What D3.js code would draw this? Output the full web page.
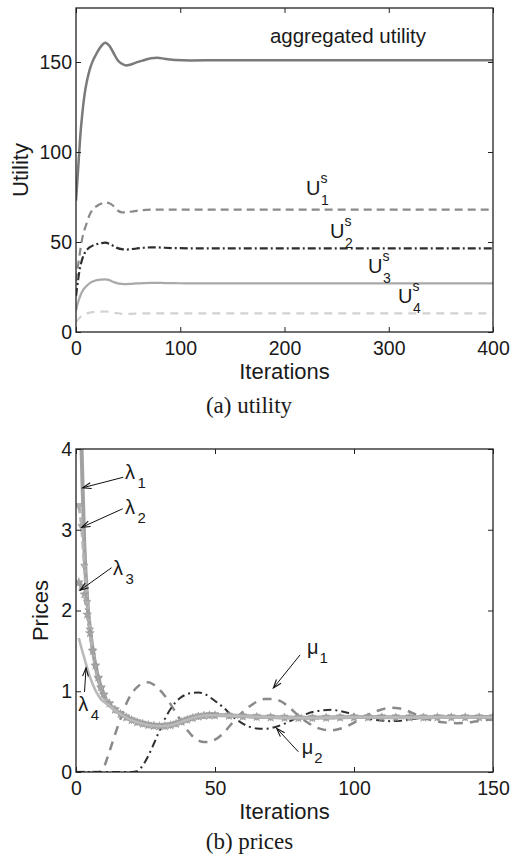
<!DOCTYPE html>
<html><head><meta charset="utf-8">
<script src="https://cdn.jsdelivr.net/npm/d3@7"></script>
<style>body{margin:0;background:#fff}svg{display:block}</style>
</head><body>
<script>
// ---------- (a) utility ----------
const iterU = [0,2,4,6,8,10,13,16,20,24,28,32,36,40,44,48,52,58,65,72,78,85,95,110,140,200,300,400];
const aggUtility = [73,90,108,121,131,138,145.5,150.5,155,158.7,160.7,159,155,151,149,148.1,148.5,149.8,151,152.1,152.3,151.8,151.1,150.9,151,151,151,151];
const U1 = [28,37,45,52,56.5,60,65,68,70,71.3,72,71.5,70,67.5,66.5,66.4,66.8,67.3,67.7,68,68,68,68,68,68,68,68,68];
const U2 = [20,29,36,40.5,43.5,45.3,47,48,48.8,49.3,49.6,49,47.8,46.6,46,45.8,46,46.4,46.8,47,47,46.8,46.6,46.5,46.5,46.5,46.5,46.5];
const U3 = [12,16.5,20,22.5,24.3,25.5,27,28,28.8,29.1,29.2,28.8,27.8,27,26.7,26.6,26.7,27,27.2,27.3,27.3,27.2,27.1,27,27,27,27,27];
const U4 = [5.5,7,8.2,9.1,9.8,10.3,10.7,11,11.2,11.3,11.4,11.2,10.8,10.4,10.1,10,10.1,10.2,10.3,10.4,10.4,10.4,10.4,10.4,10.4,10.4,10.4,10.4];
const xTicksA = [0,100,200,300,400];
const yTicksA = [0,50,100,150];

// ---------- (b) prices ----------
const iterL = [1,2,3,4,5,6,7,8,9,10,12,14,16,18,20,22,24,26,28,30,32,34,36,38,40,42,44,46,48,50,55,60,65,70,75,80,85,90,95,100,105,110,115,120,125,130,135,140,145,150];
const lambda1 = [5.2,4.0,2.8,2.15,1.78,1.52,1.32,1.16,1.04,0.95, 0.84,0.77,0.72,0.68,0.645,0.62,0.6,0.585,0.575,0.57, 0.572,0.582,0.6,0.625,0.65,0.672,0.69,0.7,0.705,0.705, 0.7,0.692,0.685,0.68,0.675,0.672,0.672,0.675,0.678,0.68, 0.68,0.68,0.678,0.677,0.678,0.68,0.68,0.68,0.68,0.68];
const lambda2 = [3.3,3.04,2.55,2.1,1.76,1.5,1.31,1.15,1.03,0.95, 0.845,0.775,0.725,0.685,0.65,0.625,0.605,0.59,0.58,0.575, 0.578,0.588,0.606,0.63,0.655,0.677,0.695,0.705,0.71,0.71, 0.705,0.697,0.69,0.685,0.68,0.677,0.677,0.68,0.683,0.685, 0.685,0.685,0.683,0.682,0.683,0.685,0.685,0.685,0.685,0.685];
const lambda3 = [2.35,2.3,2.2,1.95,1.72,1.5,1.32,1.17,1.05,0.96, 0.85,0.772,0.718,0.676,0.642,0.616,0.596,0.581,0.571,0.566, 0.568,0.578,0.596,0.621,0.646,0.668,0.686,0.696,0.701,0.701, 0.696,0.688,0.681,0.676,0.671,0.668,0.668,0.671,0.674,0.676, 0.676,0.676,0.674,0.673,0.674,0.676,0.676,0.676,0.676,0.676];
const lambda4 = [1.66,1.53,1.41,1.29,1.18,1.09,1.01,0.95,0.9,0.87, 0.82,0.765,0.715,0.675,0.64,0.617,0.598,0.583,0.573,0.568, 0.57,0.58,0.598,0.623,0.648,0.67,0.688,0.698,0.703,0.703, 0.698,0.69,0.683,0.678,0.673,0.67,0.67,0.673,0.676,0.678, 0.678,0.678,0.676,0.675,0.676,0.678,0.678,0.678,0.678,0.678];
const iterMu = [0,4,8,10,12,14,16,18,20,22,24,26,28,30,32,34,36,38,40,42,44,46,48,50,53,56,59,62,65,68,71,74,77,80,83,86,89,92,95,98,101,104,107,110,113,116,119,122,125,128,131,134,137,140,143,146,150];
const mu1 = [0,0,0,0.06,0.25,0.46,0.66,0.84,0.97,1.05,1.1,1.11,1.08,1.02,0.94,0.84,0.73,0.62,0.52,0.44,0.39,0.37,0.375,0.4,0.48,0.6,0.71,0.8,0.87,0.905,0.905,0.87,0.79,0.7,0.62,0.56,0.525,0.515,0.535,0.575,0.63,0.69,0.74,0.775,0.795,0.79,0.76,0.715,0.672,0.64,0.62,0.61,0.605,0.608,0.622,0.638,0.65];
const mu2 = [0,0,0,0,0,0,0,0,0,0.01,0.08,0.2,0.35,0.51,0.66,0.78,0.87,0.93,0.965,0.98,0.985,0.97,0.93,0.88,0.8,0.7,0.62,0.565,0.54,0.535,0.55,0.585,0.63,0.68,0.72,0.75,0.765,0.77,0.755,0.73,0.7,0.672,0.65,0.638,0.63,0.632,0.645,0.66,0.675,0.687,0.695,0.697,0.693,0.687,0.68,0.677,0.675];
const xTicksB = [0,50,100,150];
const yTicksB = [0,1,2,3,4];

// annotations in data units: [label, sub, labelX, labelY, tailX, tailY, headX, headY]
const annB = [
  ["λ","1",17.6,3.63,17.0,3.65,2.4,3.52],
  ["λ","2",17.6,3.19,16.8,3.26,2.05,3.03],
  ["λ","3",13.3,2.44,12.8,2.53,1.44,2.25],
  ["λ","4",0.83,0.75,3.06,0.99,3.6,1.29],
  ["μ","1",83.1,1.46,80.6,1.45,71,1.04],
  ["μ","2",81.2,0.22,80,0.25,72.2,0.54]
];
const annA = [["U","1",220.6,76.1],["U","2",243.6,52.2],["U","3",280,32.8],["U","4",308.9,16.1]];

const W = 511, H = 855;
const FONT = "'Liberation Sans', Arial, Helvetica, sans-serif";
const SERIF = "'Liberation Serif', 'Times New Roman', serif";
const svg = d3.select("body").append("svg").attr("width", W).attr("height", H);

function frame(x, y, xt, yt, id) {
  const g = svg.append("g");
  const [x0, x1] = x.range(), [y0, y1] = y.range();
  svg.append("clipPath").attr("id", id).append("rect")
    .attr("x", x0).attr("y", y1).attr("width", x1 - x0).attr("height", y0 - y1);
  const ax = (gen, tr) => {
    const a = g.append("g").attr("transform", tr).call(gen);
    a.select(".domain").remove();
    a.selectAll("line").attr("stroke", "#222").attr("stroke-width", 1);
    a.selectAll("text").attr("font-family", FONT).attr("font-size", 19.5).attr("fill", "#1a1a1a");
    return a;
  };
  ax(d3.axisBottom(x).tickValues(xt).tickSize(-5).tickPadding(9).tickFormat(d3.format("d")), `translate(0,${y0})`);
  ax(d3.axisTop(x).tickValues(xt).tickSize(-5).tickFormat(""), `translate(0,${y1})`);
  ax(d3.axisLeft(y).tickValues(yt).tickSize(-5).tickPadding(4).tickFormat(d3.format("d")), `translate(${x0},0)`);
  ax(d3.axisRight(y).tickValues(yt).tickSize(-5).tickFormat(""), `translate(${x1},0)`);
  g.append("rect").attr("x", x0).attr("y", y1).attr("width", x1 - x0).attr("height", y0 - y1)
    .attr("fill", "none").attr("stroke", "#222").attr("stroke-width", 1.3);
  return g;
}

function drawLine(g, x, y, xs, ys, style, clipId) {
  const line = d3.line().x((d, i) => x(xs[i])).y(d => y(d)).curve(d3.curveMonotoneX);
  return g.append("path").datum(ys).attr("d", line).attr("fill", "none")
    .attr("clip-path", `url(#${clipId})`)
    .attr("stroke", style.c).attr("stroke-width", style.w)
    .attr("stroke-dasharray", style.d || null)
    .attr("stroke-linecap", "butt").attr("stroke-linejoin", "round");
}

// ---------- chart (a) ----------
const xA = d3.scaleLinear().domain([0, 400]).range([76, 493]);
const yA = d3.scaleLinear().domain([0, 180]).range([332, 8]);
const linesA = svg.append("g");
drawLine(linesA, xA, yA, iterU, U4, {c: "#d2d2d2", w: 2.2, d: "8,6"}, "clipA");
drawLine(linesA, xA, yA, iterU, U3, {c: "#a9a9a9", w: 2.2}, "clipA");
drawLine(linesA, xA, yA, iterU, U2, {c: "#2e2e2e", w: 2.2, d: "8,3,2,3"}, "clipA");
drawLine(linesA, xA, yA, iterU, U1, {c: "#8a8a8a", w: 2.2, d: "8,5"}, "clipA");
drawLine(linesA, xA, yA, iterU, aggUtility, {c: "#7a7a7a", w: 2.5}, "clipA");
frame(xA, yA, xTicksA, yTicksA, "clipA");

svg.append("text").attr("x", xA(186)).attr("y", yA(160.3)).text("aggregated utility")
  .attr("font-family", FONT).attr("font-size", 20.5).attr("fill", "#1a1a1a");
annA.forEach(([t, s, lx, ly]) => {
  const px = xA(lx), py = yA(ly);
  svg.append("text").attr("x", px).attr("y", py).text(t).attr("font-family", FONT).attr("font-size", 20).attr("fill", "#1a1a1a");
  svg.append("text").attr("x", px + 14.5).attr("y", py - 12).text("s").attr("font-family", FONT).attr("font-size", 14).attr("fill", "#1a1a1a");
  svg.append("text").attr("x", px + 15).attr("y", py + 10).text(s).attr("font-family", FONT).attr("font-size", 14).attr("fill", "#1a1a1a");
});
svg.append("text").attr("x", (xA.range()[0] + xA.range()[1]) / 2).attr("y", 379).attr("text-anchor", "middle")
  .text("Iterations").attr("font-family", FONT).attr("font-size", 22).attr("fill", "#1a1a1a");
svg.append("text").attr("transform", `translate(28,${(yA.range()[0] + yA.range()[1]) / 2}) rotate(-90)`).attr("text-anchor", "middle")
  .text("Utility").attr("font-family", FONT).attr("font-size", 22).attr("fill", "#1a1a1a");
svg.append("text").attr("x", 249).attr("y", 413).attr("text-anchor", "middle")
  .text("(a) utility").attr("font-family", SERIF).attr("font-size", 23).attr("fill", "#1a1a1a");

// ---------- chart (b) ----------
const xB = d3.scaleLinear().domain([0, 150]).range([76, 493]);
const yB = d3.scaleLinear().domain([0, 4]).range([772, 449]);
const linesB = svg.append("g");
drawLine(linesB, xB, yB, iterMu, mu1, {c: "#8a8a8a", w: 2.5, d: "9,7"}, "clipB");
drawLine(linesB, xB, yB, iterMu, mu2, {c: "#303030", w: 2, d: "8,4,2,4"}, "clipB");
drawLine(linesB, xB, yB, iterL, lambda1, {c: "#a2a2a2", w: 4}, "clipB");
drawLine(linesB, xB, yB, iterL, lambda2, {c: "#b4b4b4", w: 3, d: "8,4"}, "clipB");
drawLine(linesB, xB, yB, iterL, lambda3, {c: "#adadad", w: 3, d: "8,3,2,3"}, "clipB");
const mk = svg.append("g").attr("clip-path", "url(#clipB)");
mk.selectAll("path.tri").data(lambda2).join("path").attr("class", "tri")
  .attr("d", d3.symbol(d3.symbolTriangle, 22))
  .attr("transform", (d, i) => `translate(${xB(iterL[i])},${yB(d)}) rotate(180)`)
  .attr("fill", "#b0b0b0").attr("stroke", "#9a9a9a").attr("stroke-width", 0.6);
mk.selectAll("path.star").data(lambda3).join("path").attr("class", "star")
  .attr("d", d3.symbol(d3.symbolStar, 24))
  .attr("transform", (d, i) => `translate(${xB(iterL[i])},${yB(d)})`)
  .attr("fill", "#a5a5a5").attr("stroke", "#909090").attr("stroke-width", 0.5);
const top4 = svg.append("g");
drawLine(top4, xB, yB, iterL, lambda4, {c: "#bababa", w: 2.6}, "clipB");
frame(xB, yB, xTicksB, yTicksB, "clipB");

annB.forEach(([t, s, lx, ly, tx, ty, hx, hy]) => {
  const px = xB(lx), py = yB(ly);
  svg.append("text").attr("x", px).attr("y", py).text(t).attr("font-family", FONT).attr("font-size", 20).attr("fill", "#1a1a1a");
  svg.append("text").attr("x", px + 12.5).attr("y", py + 9).text(s).attr("font-family", FONT).attr("font-size", 15).attr("fill", "#1a1a1a");
  const x1 = xB(tx), y1 = yB(ty), x2 = xB(hx), y2 = yB(hy);
  svg.append("line").attr("x1", x1).attr("y1", y1).attr("x2", x2).attr("y2", y2).attr("stroke", "#111").attr("stroke-width", 1);
  const a = Math.atan2(y1 - y2, x1 - x2), L = 9, sp = 0.33;
  const p = `M${x2 + L * Math.cos(a + sp)},${y2 + L * Math.sin(a + sp)}L${x2},${y2}L${x2 + L * Math.cos(a - sp)},${y2 + L * Math.sin(a - sp)}`;
  svg.append("path").attr("d", p).attr("fill", "none").attr("stroke", "#111").attr("stroke-width", 1.1);
});
svg.append("text").attr("x", (xB.range()[0] + xB.range()[1]) / 2).attr("y", 819).attr("text-anchor", "middle")
  .text("Iterations").attr("font-family", FONT).attr("font-size", 22).attr("fill", "#1a1a1a");
svg.append("text").attr("transform", `translate(48,${(yB.range()[0] + yB.range()[1]) / 2}) rotate(-90)`).attr("text-anchor", "middle")
  .text("Prices").attr("font-family", FONT).attr("font-size", 22).attr("fill", "#1a1a1a");
svg.append("text").attr("x", 249.5).attr("y", 849).attr("text-anchor", "middle")
  .text("(b) prices").attr("font-family", SERIF).attr("font-size", 23).attr("fill", "#1a1a1a");
</script>
</body></html>
